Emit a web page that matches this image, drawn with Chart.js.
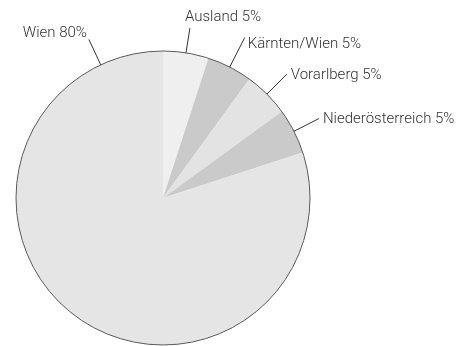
<!DOCTYPE html>
<html>
<head>
<meta charset="utf-8">
<script src="https://cdn.jsdelivr.net/npm/chart.js@4/dist/chart.umd.min.js"></script>
<style>
  html, body { margin: 0; padding: 0; background: #fff; }
  canvas { display: block; }
</style>
</head>
<body>
<canvas id="herkunftChart" width="459" height="346"></canvas>
<script>
// Herkunft der Teilnehmer (Anteile in %)
const regions = ['Ausland', 'Kärnten/Wien', 'Vorarlberg', 'Niederösterreich', 'Wien'];
const shares = [5, 5, 5, 5, 80];
const sliceColors = ['#efefef', '#cacaca', '#e3e3e3', '#cacaca', '#e5e5e5'];

// Leader lines + labels, one entry per slice (same order as regions)
const calloutStyle = [
    { at: 0.5, len: 25, align: 'left', dx: -5, dy: -7 },
    { at: 0.5, len: 33, align: 'left', dx: 3, dy: 10 },
    { at: 0.5, len: 28, align: 'left', dx: 4, dy: 5 },
    { at: 0.5, len: 28, align: 'left', dx: 4, dy: 4 },
    { at: 0.913, len: 28, align: 'right', dx: -2, dy: -2 }
];

const calloutPlugin = {
    id: 'callouts',
    afterDatasetsDraw(chart) {
        const ctx = chart.ctx;
        const meta = chart.getDatasetMeta(0);
        if (!meta.data.length) return;
        const first = meta.data[0];
        const cx = first.x, cy = first.y, r = first.outerRadius;

        // outer outline of the pie only (no radial separators)
        ctx.save();
        ctx.beginPath();
        ctx.arc(cx, cy, r, 0, Math.PI * 2);
        ctx.lineWidth = 1;
        ctx.strokeStyle = '#5a5a5a';
        ctx.stroke();

        ctx.font = '300 15px Roboto, "Liberation Sans", sans-serif';
        ctx.fillStyle = '#333';
        ctx.strokeStyle = '#333';
        ctx.textBaseline = 'alphabetic';

        meta.data.forEach((arc, i) => {
            const s = calloutStyle[i];
            const a = arc.startAngle + (arc.endAngle - arc.startAngle) * s.at;
            const x0 = cx + Math.cos(a) * r, y0 = cy + Math.sin(a) * r;
            const x1 = cx + Math.cos(a) * (r + s.len), y1 = cy + Math.sin(a) * (r + s.len);
            ctx.beginPath();
            ctx.moveTo(x0, y0);
            ctx.lineTo(x1, y1);
            ctx.stroke();
            ctx.textAlign = s.align;
            ctx.fillText(regions[i] + ' ' + shares[i] + '%', x1 + s.dx, y1 + s.dy);
        });
        ctx.restore();
    }
};

new Chart(document.getElementById('herkunftChart'), {
    type: 'pie',
    data: {
        labels: regions,
        datasets: [{
            data: shares,
            backgroundColor: sliceColors,
            borderWidth: 0
        }]
    },
    options: {
        responsive: false,
        animation: false,
        layout: { padding: { left: 16, right: 149, top: 51, bottom: 1 } },
        plugins: {
            legend: { display: false },
            tooltip: { enabled: false }
        }
    },
    plugins: [calloutPlugin]
});
</script>
</body>
</html>
